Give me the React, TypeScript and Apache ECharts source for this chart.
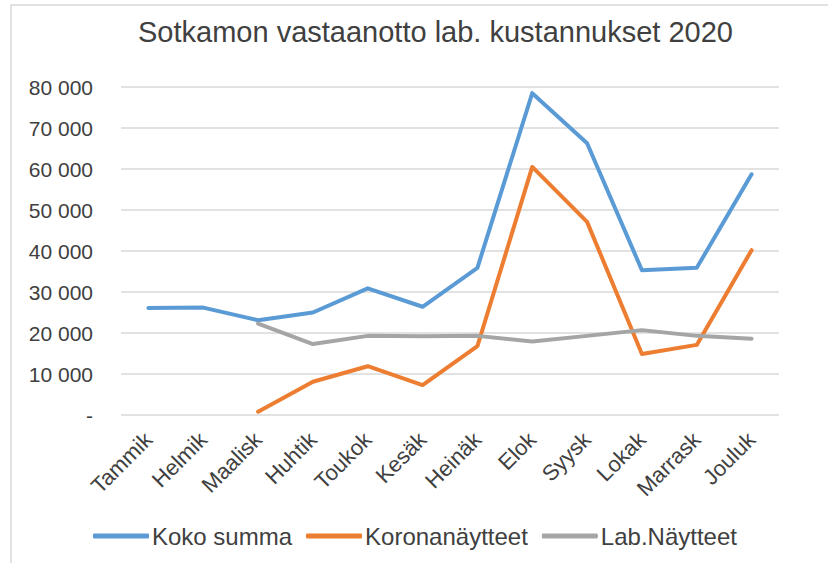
import React, { useEffect, useRef } from "react";
import * as echarts from "echarts";

const categories = ["Tammik", "Helmik", "Maalisk", "Huhtik", "Toukok", "Kesäk", "Heinäk", "Elok", "Syysk", "Lokak", "Marrask", "Jouluk"];
const kokoSumma = [26100, 26200, 23100, 25000, 30900, 26400, 35900, 78500, 66300, 35300, 35900, 58700];
const koronaNaytteet = [null, null, 800, 8100, 11900, 7300, 16800, 60500, 47100, 14900, 17100, 40200];
const labNaytteet = [null, null, 22300, 17300, 19300, 19200, 19300, 17900, 19300, 20700, 19300, 18600];
const seriesNames = ["Koko summa", "Koronanäytteet", "Lab.Näytteet"];
const colors = ["#5B9BD5", "#ED7D31", "#A5A5A5"];

const FONT = "Liberation Sans";

function fmt(v: number) {
  if (v === 0) return "-";
  const s = String(Math.round(v));
  return s.replace(/\B(?=(\d{3})+(?!\d))/g, " ");
}

export default function App() {
  const ref = useRef<HTMLDivElement>(null);
  useEffect(() => {
    document.body.style.margin = "0";
    const chart = echarts.init(ref.current!, undefined, { renderer: "svg" });
    const datas = [kokoSumma, koronaNaytteet, labNaytteet];
    chart.setOption({
      animation: false,
      backgroundColor: "#ffffff",
      graphic: [
        {
          type: "rect",
          shape: { x: 11, y: 5, width: 900, height: 700 },
          style: { fill: "none", stroke: "#D9D9D9", lineWidth: 1.5 },
          silent: true,
        },
      ],
      title: {
        text: "Sotkamon vastaanotto lab. kustannukset 2020",
        left: 133,
        top: 12,
        textStyle: { fontFamily: FONT, fontSize: 29, fontWeight: "normal", color: "#404040" },
      },
      grid: { left: 121, right: 49, top: 87, bottom: 148, containLabel: false },
      legend: {
        bottom: 10,
        left: 88,
        icon: "roundRect",
        itemWidth: 56,
        itemHeight: 5,
        itemGap: 14,
        textStyle: { fontFamily: FONT, fontSize: 24, color: "#404040", padding: [0, 0, 0, -2] },
        data: seriesNames,
      },
      xAxis: {
        type: "category",
        data: categories,
        boundaryGap: true,
        axisLine: { show: false },
        axisTick: { show: false },
        axisLabel: { rotate: 45, fontFamily: FONT, fontSize: 22, color: "#404040", margin: 21, interval: 0 },
      },
      yAxis: {
        type: "value",
        min: 0,
        max: 80000,
        interval: 10000,
        axisLine: { show: false },
        axisTick: { show: false },
        splitLine: { lineStyle: { color: "#D9D9D9", width: 1.5 } },
        axisLabel: { fontFamily: FONT, fontSize: 21, color: "#404040", margin: 28, formatter: fmt },
      },
      series: datas.map((d, i) => ({
        name: seriesNames[i],
        type: "line",
        data: d,
        showSymbol: false,
        symbol: "none",
        lineStyle: { color: colors[i], width: 4, cap: "round", join: "round" },
        itemStyle: { color: colors[i] },
      })),
    });
    return () => chart.dispose();
  }, []);
  return <div ref={ref} style={{ width: 828, height: 563 }} />;
}
